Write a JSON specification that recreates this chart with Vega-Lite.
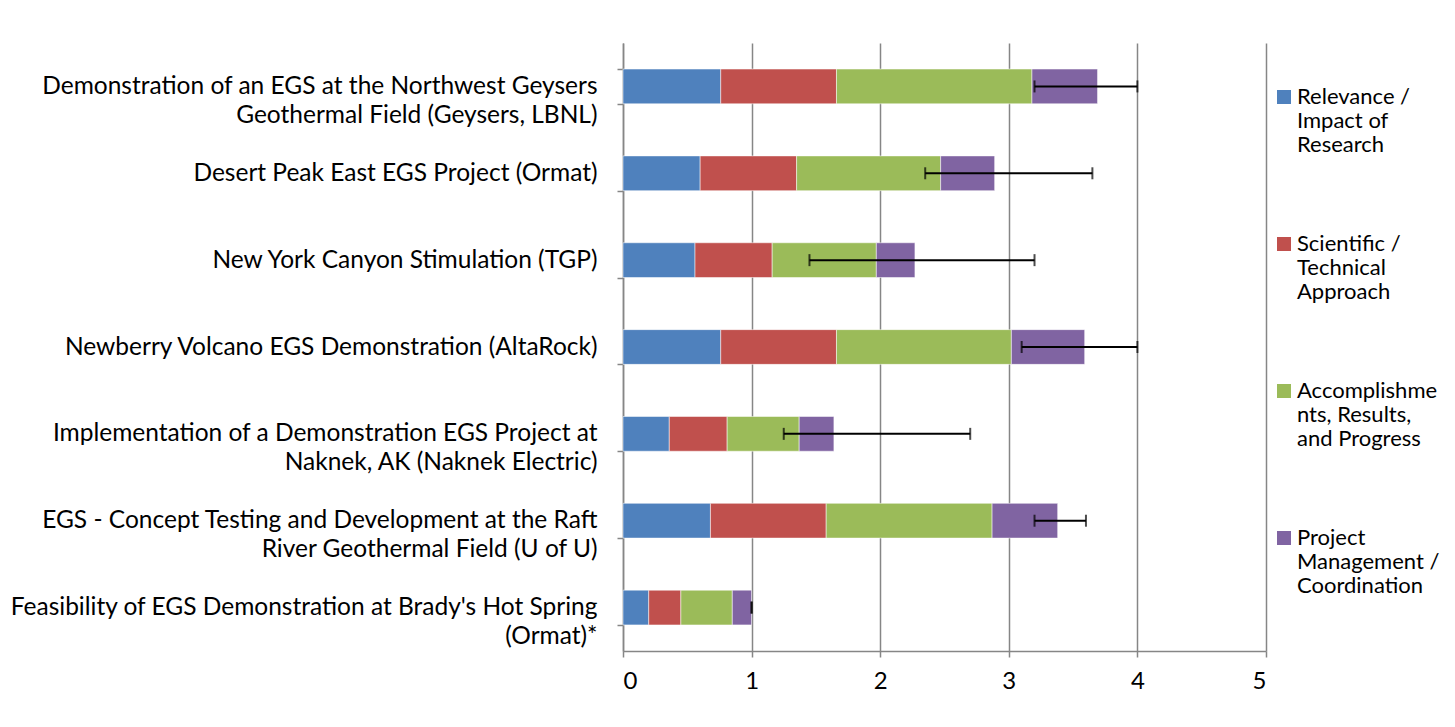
{
  "$schema": "https://vega.github.io/schema/vega-lite/v6.json",
  "autosize": {"type": "none"},
  "width": 643,
  "height": 608,
  "padding": {"left": 623, "top": 43, "right": 189, "bottom": 76},
  "background": "white",
  "config": {"view": {"stroke": null}, "font": "Lato"},
  "datasets": {
    "scores": [
      {"project": "Demonstration of an EGS at the Northwest Geysers|Geothermal Field (Geysers, LBNL)", "criterion": "Relevance / Impact of Research", "ord": 1, "score": 0.76},
      {"project": "Demonstration of an EGS at the Northwest Geysers|Geothermal Field (Geysers, LBNL)", "criterion": "Scientific / Technical Approach", "ord": 2, "score": 0.90},
      {"project": "Demonstration of an EGS at the Northwest Geysers|Geothermal Field (Geysers, LBNL)", "criterion": "Accomplishments, Results, and Progress", "ord": 3, "score": 1.52},
      {"project": "Demonstration of an EGS at the Northwest Geysers|Geothermal Field (Geysers, LBNL)", "criterion": "Project Management / Coordination", "ord": 4, "score": 0.51},
      {"project": "Desert Peak East EGS Project (Ormat)", "criterion": "Relevance / Impact of Research", "ord": 1, "score": 0.60},
      {"project": "Desert Peak East EGS Project (Ormat)", "criterion": "Scientific / Technical Approach", "ord": 2, "score": 0.75},
      {"project": "Desert Peak East EGS Project (Ormat)", "criterion": "Accomplishments, Results, and Progress", "ord": 3, "score": 1.12},
      {"project": "Desert Peak East EGS Project (Ormat)", "criterion": "Project Management / Coordination", "ord": 4, "score": 0.42},
      {"project": "New York Canyon Stimulation (TGP)", "criterion": "Relevance / Impact of Research", "ord": 1, "score": 0.56},
      {"project": "New York Canyon Stimulation (TGP)", "criterion": "Scientific / Technical Approach", "ord": 2, "score": 0.60},
      {"project": "New York Canyon Stimulation (TGP)", "criterion": "Accomplishments, Results, and Progress", "ord": 3, "score": 0.81},
      {"project": "New York Canyon Stimulation (TGP)", "criterion": "Project Management / Coordination", "ord": 4, "score": 0.30},
      {"project": "Newberry Volcano EGS Demonstration (AltaRock)", "criterion": "Relevance / Impact of Research", "ord": 1, "score": 0.76},
      {"project": "Newberry Volcano EGS Demonstration (AltaRock)", "criterion": "Scientific / Technical Approach", "ord": 2, "score": 0.90},
      {"project": "Newberry Volcano EGS Demonstration (AltaRock)", "criterion": "Accomplishments, Results, and Progress", "ord": 3, "score": 1.36},
      {"project": "Newberry Volcano EGS Demonstration (AltaRock)", "criterion": "Project Management / Coordination", "ord": 4, "score": 0.57},
      {"project": "Implementation of a Demonstration EGS Project at|Naknek, AK (Naknek Electric)", "criterion": "Relevance / Impact of Research", "ord": 1, "score": 0.36},
      {"project": "Implementation of a Demonstration EGS Project at|Naknek, AK (Naknek Electric)", "criterion": "Scientific / Technical Approach", "ord": 2, "score": 0.45},
      {"project": "Implementation of a Demonstration EGS Project at|Naknek, AK (Naknek Electric)", "criterion": "Accomplishments, Results, and Progress", "ord": 3, "score": 0.56},
      {"project": "Implementation of a Demonstration EGS Project at|Naknek, AK (Naknek Electric)", "criterion": "Project Management / Coordination", "ord": 4, "score": 0.27},
      {"project": "EGS - Concept Testing and Development at the Raft|River Geothermal Field (U of U)", "criterion": "Relevance / Impact of Research", "ord": 1, "score": 0.68},
      {"project": "EGS - Concept Testing and Development at the Raft|River Geothermal Field (U of U)", "criterion": "Scientific / Technical Approach", "ord": 2, "score": 0.90},
      {"project": "EGS - Concept Testing and Development at the Raft|River Geothermal Field (U of U)", "criterion": "Accomplishments, Results, and Progress", "ord": 3, "score": 1.29},
      {"project": "EGS - Concept Testing and Development at the Raft|River Geothermal Field (U of U)", "criterion": "Project Management / Coordination", "ord": 4, "score": 0.51},
      {"project": "Feasibility of EGS Demonstration at Brady's Hot Spring|(Ormat)*", "criterion": "Relevance / Impact of Research", "ord": 1, "score": 0.20},
      {"project": "Feasibility of EGS Demonstration at Brady's Hot Spring|(Ormat)*", "criterion": "Scientific / Technical Approach", "ord": 2, "score": 0.25},
      {"project": "Feasibility of EGS Demonstration at Brady's Hot Spring|(Ormat)*", "criterion": "Accomplishments, Results, and Progress", "ord": 3, "score": 0.40},
      {"project": "Feasibility of EGS Demonstration at Brady's Hot Spring|(Ormat)*", "criterion": "Project Management / Coordination", "ord": 4, "score": 0.15}
    ],
    "err": [
      {"project": "Demonstration of an EGS at the Northwest Geysers|Geothermal Field (Geysers, LBNL)", "low": 3.2, "high": 4.0},
      {"project": "Desert Peak East EGS Project (Ormat)", "low": 2.35, "high": 3.65},
      {"project": "New York Canyon Stimulation (TGP)", "low": 1.45, "high": 3.2},
      {"project": "Newberry Volcano EGS Demonstration (AltaRock)", "low": 3.1, "high": 4.0},
      {"project": "Implementation of a Demonstration EGS Project at|Naknek, AK (Naknek Electric)", "low": 1.25, "high": 2.7},
      {"project": "EGS - Concept Testing and Development at the Raft|River Geothermal Field (U of U)", "low": 3.2, "high": 3.6},
      {"project": "Feasibility of EGS Demonstration at Brady's Hot Spring|(Ormat)*", "low": 1.0, "high": 1.0}
    ]
  },
  "encoding": {
    "y": {
      "field": "project",
      "type": "nominal",
      "scale": {
        "domain": [
          "Demonstration of an EGS at the Northwest Geysers|Geothermal Field (Geysers, LBNL)",
          "Desert Peak East EGS Project (Ormat)",
          "New York Canyon Stimulation (TGP)",
          "Newberry Volcano EGS Demonstration (AltaRock)",
          "Implementation of a Demonstration EGS Project at|Naknek, AK (Naknek Electric)",
          "EGS - Concept Testing and Development at the Raft|River Geothermal Field (U of U)",
          "Feasibility of EGS Demonstration at Brady's Hot Spring|(Ormat)*"
        ],
        "paddingInner": 0.6,
        "paddingOuter": 0.3
      },
      "axis": {
        "title": null,
        "labelExpr": "split(datum.label, '|')",
        "labelFont": "Lato",
        "labelFontSize": 24.5,
        "labelColor": "black",
        "labelPadding": 20,
        "labelLimit": 0,
        "labelLineHeight": 29,
        "tickBand": "extent",
        "tickSize": 6,
        "tickColor": "#868686",
        "tickWidth": 1.5,
        "domainColor": "#868686",
        "domainWidth": 1.5,
        "grid": false
      }
    }
  },
  "layer": [
    {
      "data": {"name": "scores"},
      "mark": {"type": "bar", "stroke": "white", "strokeWidth": 1, "strokeOpacity": 0.5},
      "encoding": {
        "x": {
          "field": "score",
          "type": "quantitative",
          "stack": "zero",
          "scale": {"domain": [0, 5], "nice": false},
          "axis": {
            "title": null,
            "values": [0, 1, 2, 3, 4, 5],
            "format": "d",
            "grid": true,
            "gridColor": "#868686",
            "gridWidth": 1.5,
            "gridOpacity": 1,
            "domainColor": "#868686",
            "domainWidth": 1.5,
            "tickColor": "#868686",
            "tickWidth": 1.5,
            "tickSize": 6,
            "labelFont": "Lato",
            "labelFontSize": 24,
            "labelColor": "black",
            "labelPadding": 12
          }
        },
        "color": {
          "field": "criterion",
          "type": "nominal",
          "scale": {
            "domain": ["Relevance / Impact of Research", "Scientific / Technical Approach", "Accomplishments, Results, and Progress", "Project Management / Coordination"],
            "range": ["#4F81BD", "#C0504D", "#9BBB59", "#8064A2"]
          },
          "legend": {
            "title": null,
            "orient": "none",
            "legendX": 650,
            "legendY": 43,
            "symbolType": "square",
            "symbolSize": 196,
            "symbolStrokeWidth": 0,
            "labelFont": "Lato",
            "labelFontSize": 22,
            "labelColor": "black",
            "labelBaseline": "middle",
            "labelOffset": 2,
            "labelLimit": 0,
            "rowPadding": 77,
            "labelExpr": "datum.label == 'Relevance / Impact of Research' ? ['Relevance /', 'Impact of', 'Research'] : datum.label == 'Scientific / Technical Approach' ? ['Scientific /', 'Technical', 'Approach'] : datum.label == 'Accomplishments, Results, and Progress' ? ['Accomplishme', 'nts, Results,', 'and Progress'] : ['Project', 'Management /', 'Coordination']"
          }
        },
        "order": {"field": "ord"}
      }
    },
    {
      "data": {"name": "err"},
      "mark": {"type": "rule", "color": "black", "strokeWidth": 2},
      "encoding": {
        "x": {"field": "low", "type": "quantitative"},
        "x2": {"field": "high"}
      }
    },
    {
      "data": {"name": "err"},
      "mark": {"type": "tick", "color": "black", "thickness": 2, "size": 12},
      "encoding": {"x": {"field": "low", "type": "quantitative"}}
    },
    {
      "data": {"name": "err"},
      "mark": {"type": "tick", "color": "black", "thickness": 2, "size": 12},
      "encoding": {"x": {"field": "high", "type": "quantitative"}}
    }
  ]
}
